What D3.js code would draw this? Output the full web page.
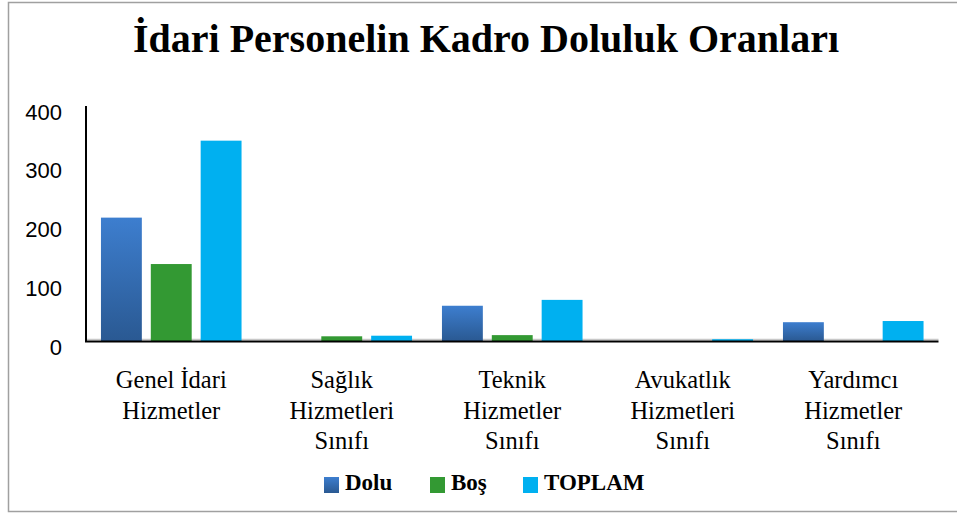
<!DOCTYPE html>
<html>
<head>
<meta charset="utf-8">
<script src="https://cdn.jsdelivr.net/npm/d3@7"></script>
<style>
  body { margin: 0; background: #fff; }
</style>
</head>
<body>
<div id="chart"></div>
<script>
// kadro verileri
const categories = [
  ["Genel İdari", "Hizmetler"],
  ["Sağlık", "Hizmetleri", "Sınıfı"],
  ["Teknik", "Hizmetler", "Sınıfı"],
  ["Avukatlık", "Hizmetleri", "Sınıfı"],
  ["Yardımcı", "Hizmetler", "Sınıfı"]
];
const seriesNames = ["Dolu", "Boş", "TOPLAM"];
const dolu   = [210, 0, 60, 0, 32];
const bos    = [131, 8, 10, 0, 0];
const toplam = [341, 9, 70, 3, 34];
const yTicks = [0, 100, 200, 300, 400];

const width = 957, height = 514;
const margin = {left: 86, right: 18.5, top: 106, bottom: 173};

const svg = d3.select("#chart").append("svg")
    .attr("width", width)
    .attr("height", height);

// gradient for Dolu bars
const grad = svg.append("defs").append("linearGradient")
    .attr("id", "doluGrad")
    .attr("x1", 0).attr("y1", 0).attr("x2", 0).attr("y2", 1);
grad.append("stop").attr("offset", "0%").attr("stop-color", "#3d7ecf");
grad.append("stop").attr("offset", "100%").attr("stop-color", "#2a5992");

const colors = ["url(#doluGrad)", "#339933", "#00b0f0"];

// frame
svg.append("rect")
    .attr("x", 8.5).attr("y", 2.5)
    .attr("width", 960).attr("height", 509)
    .attr("fill", "none")
    .attr("stroke", "#a0a0a0")
    .attr("stroke-width", 1.5);

// title
svg.append("text")
    .attr("x", 486).attr("y", 52)
    .attr("text-anchor", "middle")
    .style("font", "bold 40px 'Liberation Serif', 'Times New Roman', serif")
    .text("İdari Personelin Kadro Doluluk Oranları");

const x0 = d3.scaleBand()
    .domain(d3.range(categories.length))
    .range([margin.left, width - margin.right]);

const x1 = d3.scaleBand()
    .domain(d3.range(seriesNames.length))
    .range([0, x0.bandwidth()])
    .paddingInner(0.18)
    .paddingOuter(0.3);

const y = d3.scaleLinear()
    .domain([0, 400])
    .range([height - margin.bottom, margin.top]);

const rows = categories.map((c, i) => [dolu[i], bos[i], toplam[i]]);

// faint zero line under the bars
svg.append("line")
    .attr("x1", margin.left - 1).attr("x2", width - margin.right)
    .attr("y1", y(0) - 1.5).attr("y2", y(0) - 1.5)
    .attr("stroke", "#c8c8c8").attr("stroke-width", 1.5);

// bars
const g = svg.append("g");
rows.forEach((vals, i) => {
  g.selectAll(null)
    .data(vals)
    .join("rect")
      .attr("x", (d, j) => x0(i) + x1(j))
      .attr("y", d => y(d))
      .attr("width", x1.bandwidth())
      .attr("height", d => y(0) - y(d))
      .attr("fill", (d, j) => colors[j]);
});

// y axis labels (no ticks)
svg.append("g")
  .selectAll("text")
  .data(yTicks)
  .join("text")
    .attr("x", 62)
    .attr("y", d => y(d) + 6)
    .attr("dy", "0.35em")
    .attr("text-anchor", "end")
    .style("font", "22px 'Liberation Sans', 'Open Sans', sans-serif")
    .text(d => d);

// axis lines
svg.append("line")
    .attr("x1", margin.left).attr("x2", margin.left)
    .attr("y1", y(400)).attr("y2", y(0) + 1)
    .attr("stroke", "#000").attr("stroke-width", 2);
svg.append("line")
    .attr("x1", margin.left - 1).attr("x2", width - margin.right)
    .attr("y1", y(0) + 0.5).attr("y2", y(0) + 0.5)
    .attr("stroke", "#000").attr("stroke-width", 2);

// category labels
svg.append("g")
  .selectAll("text")
  .data(categories)
  .join("text")
    .attr("text-anchor", "middle")
    .style("font", "24.5px 'Liberation Serif', 'Times New Roman', serif")
    .attr("transform", (d, i) => `translate(${x0(i) + x0.bandwidth() / 2},388)`)
  .selectAll("tspan")
  .data(d => d)
  .join("tspan")
    .attr("x", 0)
    .attr("y", (d, i) => i * 30.5)
    .text(d => d);

// legend
const legendX = [324, 430, 523];
const leg = svg.append("g")
  .selectAll("g")
  .data(seriesNames)
  .join("g")
    .attr("transform", (d, i) => `translate(${legendX[i]},477)`);
leg.append("rect")
    .attr("width", 15).attr("height", 16)
    .attr("fill", (d, i) => colors[i]);
leg.append("text")
    .attr("x", 21).attr("y", 13)
    .style("font", "bold 23px 'Liberation Serif', 'Times New Roman', serif")
    .text(d => d);
</script>
</body>
</html>
